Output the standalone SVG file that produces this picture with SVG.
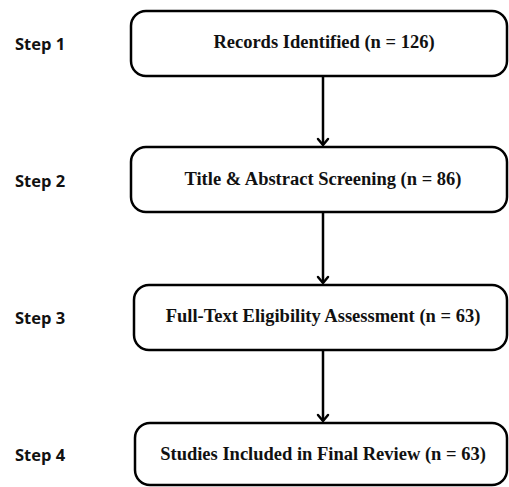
<svg xmlns="http://www.w3.org/2000/svg" width="509" height="487" viewBox="0 0 509 487">
<style>
.box{fill:#fff;stroke:#000;stroke-width:2.5}
.lbl{font-family:"Liberation Serif","Times New Roman",serif;font-weight:bold;font-size:18.5px;text-anchor:middle;fill:#111}
.step{font-family:"Open Sans","Liberation Sans",sans-serif;font-weight:bold;font-size:16.5px;fill:#111}
.conn{stroke:#000;stroke-width:2.5;fill:none}
.head{stroke:#000;stroke-width:2.5;fill:none;stroke-linecap:round;stroke-linejoin:round}
</style>
<rect width="509" height="487" fill="#fff"/>
<g id="connectors">
<line class="conn" x1="323" y1="76" x2="323" y2="145"/>
<path class="head" d="M318,139 L323,145 L328,139"/>
<line class="conn" x1="323" y1="212" x2="323" y2="283"/>
<path class="head" d="M318,277 L323,283 L328,277"/>
<line class="conn" x1="323" y1="350" x2="323" y2="421"/>
<path class="head" d="M318,415 L323,421 L328,415"/>
</g>
<g id="step1"><text class="step" x="15" y="50">Step 1</text></g>
<g id="step2"><text class="step" x="15" y="187">Step 2</text></g>
<g id="step3"><text class="step" x="15" y="324">Step 3</text></g>
<g id="step4"><text class="step" x="15" y="461">Step 4</text></g>
<g id="node1"><rect class="box" x="131" y="11" width="376" height="65" rx="15"/><text class="lbl" x="324" y="48">Records Identified (n = 126)</text></g>
<g id="node2"><rect class="box" x="131" y="147" width="376" height="65" rx="15"/><text class="lbl" x="323" y="185">Title &amp; Abstract Screening (n = 86)</text></g>
<g id="node3"><rect class="box" x="134" y="285" width="373" height="65" rx="15"/><text class="lbl" x="323" y="322">Full-Text Eligibility Assessment (n = 63)</text></g>
<g id="node4"><rect class="box" x="135" y="423" width="372" height="62" rx="15"/><text class="lbl" x="323" y="460">Studies Included in Final Review (n = 63)</text></g>
</svg>
